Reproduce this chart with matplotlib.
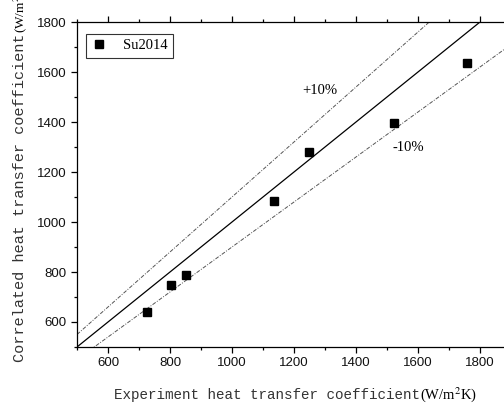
import numpy as np
import matplotlib
matplotlib.use("Agg")
import matplotlib.pyplot as plt
from matplotlib.ticker import MultipleLocator

plt.rcParams["mathtext.fontset"] = "stix"

# data (experiment vs correlated, W/m2K)
h_exp = [725, 802, 851, 1135, 1247, 1521, 1757]
h_cor = [640, 749, 789, 1086, 1280, 1395, 1636]
series_name = "Su2014"

# parity line and +/-10% bounds
ref_x = np.array([500, 1900])

fig = plt.figure(figsize=(5.04, 4.03), dpi=100)
# right part of the axes runs past the figure edge, as in the original
ax = fig.add_axes([77/504, 1 - 347/403, 434/504, 325/403])

ax.plot(ref_x, ref_x, color="black", lw=0.9)
ax.plot(ref_x, 1.1 * ref_x, color="#555555", lw=0.7, ls=(0, (4, 1.5, 1, 1.5)))
ax.plot(ref_x, 0.9 * ref_x, color="#555555", lw=0.7, ls=(0, (4, 1.5, 1, 1.5)))
ax.plot(h_exp, h_cor, "s", color="black", ms=5.5, label=series_name)

ax.text(1284, 1528, "+10%", family="Liberation Serif", fontsize=10.5,
        ha="center", va="center")
ax.text(1568, 1300, "-10%", family="Liberation Serif", fontsize=10.5,
        ha="center", va="center")

ax.set_xlim(500, 1900)
ax.set_ylim(500, 1800)
ax.xaxis.set_minor_locator(MultipleLocator(100))
ax.yaxis.set_minor_locator(MultipleLocator(100))
ax.set_xticks([600, 800, 1000, 1200, 1400, 1600, 1800])
ax.set_yticks([600, 800, 1000, 1200, 1400, 1600, 1800])
ax.tick_params(which="both", direction="out", top=True, right=False,
               width=0.9, labelsize=9.5, labelcolor="#111111")
ax.tick_params(which="major", length=4)
ax.tick_params(which="minor", length=2.5)
for lab in ax.get_xticklabels() + ax.get_yticklabels():
    lab.set_family("Liberation Sans")
ax.spines["right"].set_visible(False)
for s in ["left", "bottom", "top"]:
    ax.spines[s].set_linewidth(0.9)

leg = ax.legend(loc="upper left", bbox_to_anchor=(0.003, 0.985), frameon=True,
                fancybox=False, edgecolor="black", borderpad=0.35,
                handlelength=1.2, handletextpad=1.0,
                prop={"family": "Liberation Serif", "size": 10.5})
leg.get_frame().set_linewidth(0.8)

# axis titles: monospace words plus serif unit, as in the original
fig.text(420/504, 1 - 395/403, "Experiment heat transfer coefficient",
         family="Liberation Mono", fontsize=10.3, color="#333333",
         ha="right", va="center")
fig.text(420/504, 1 - 395/403, "(W/m$^2$K)", family="Liberation Serif",
         fontsize=10.5, ha="left", va="center")
fig.text(20/504, 1 - 33/403, "Correlated heat transfer coefficient",
         family="Liberation Mono", fontsize=11, color="#333333",
         rotation=90, ha="center", va="top")
fig.text(20/504, 1 - 33/403, "(W/m$^2$K)", family="Liberation Serif",
         fontsize=9.5, rotation=90, ha="center", va="bottom")

fig.savefig("out.png", dpi=100)
